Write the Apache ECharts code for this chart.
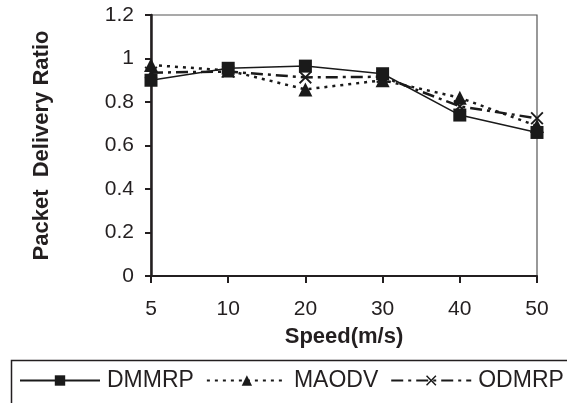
<!DOCTYPE html>
<html>
<head>
<meta charset="utf-8">
<script src="https://cdn.jsdelivr.net/npm/echarts@6/dist/echarts.min.js"></script>
<style>
html,body{margin:0;padding:0;background:#fff;}
#c{width:567px;height:403px;}
</style>
</head>
<body>
<div id="c"></div>
<script>
const categories = ['5', '10', '20', '30', '40', '50'];
const dmmrp = [0.90, 0.955, 0.965, 0.93, 0.74, 0.66];
const maodv = [0.97, 0.945, 0.858, 0.90, 0.82, 0.69];
const odmrp = [0.935, 0.94, 0.913, 0.916, 0.78, 0.725];
const yTicks = { min: 0, max: 1.2, interval: 0.2 };

const FONT = '"Liberation Sans", Arial, sans-serif';
const TXT = '#231f20';
const xSymbol = 'path://M0,1 L1,0 L5,4 L9,0 L10,1 L6,5 L10,9 L9,10 L5,6 L1,10 L0,9 L4,5 Z';

const chart = echarts.init(document.getElementById('c'), null, { renderer: 'canvas' });
chart.setOption({
  animation: false,
  backgroundColor: '#fff',
  textStyle: { fontFamily: FONT, color: TXT },
  graphic: [{
    type: 'rect', left: 9, top: 358, z: -1,
    shape: { width: 640, height: 100 },
    style: { fill: 'none', stroke: '#231f20', lineWidth: 1.5 }
  }],
  grid: {
    left: 151, right: 30, top: 15, bottom: 127,
    show: true, borderColor: '#555', borderWidth: 1.2, backgroundColor: 'transparent'
  },
  xAxis: {
    type: 'category',
    data: categories,
    boundaryGap: false,
    axisLine: { lineStyle: { color: '#231f20', width: 2 } },
    axisTick: { alignWithLabel: true, length: 7, lineStyle: { color: '#231f20', width: 2 } },
    axisLabel: { fontSize: 21, color: TXT, fontFamily: FONT, margin: 23 },
    splitLine: { show: false },
    name: 'Speed(m/s)',
    nameLocation: 'middle',
    nameGap: 50,
    nameTextStyle: { fontSize: 22, fontWeight: 'bold', color: TXT, fontFamily: FONT }
  },
  yAxis: {
    type: 'value',
    min: yTicks.min, max: yTicks.max, interval: yTicks.interval,
    axisLine: { show: true, lineStyle: { color: '#231f20', width: 2.5 } },
    axisTick: { show: true, length: 6, lineStyle: { color: '#231f20', width: 2 } },
    axisLabel: { fontSize: 21, color: TXT, fontFamily: FONT, margin: 17 },
    splitLine: { show: false },
    name: 'Packet  Delivery Ratio',
    nameLocation: 'middle',
    nameGap: 98,
    nameRotate: 90,
    nameTextStyle: { fontSize: 22, fontWeight: 'bold', color: TXT, fontFamily: FONT }
  },
  legend: {
    data: ['DMMRP', 'MAODV', 'ODMRP'],
    left: 9, top: 358, width: 620,
    orient: 'horizontal',
    padding: [11, 10, 30, 10],
    itemWidth: 80, itemHeight: 13, itemGap: 12,
    textStyle: { fontSize: 23, color: TXT, fontFamily: FONT, padding: [0, 0, 0, 2] }
  },
  series: [
    {
      name: 'DMMRP', type: 'line', data: dmmrp, z: 5,
      symbol: 'rect', symbolSize: 13,
      lineStyle: { color: '#1a1a1a', width: 1.5, type: 'solid' },
      itemStyle: { color: '#1a1a1a' }
    },
    {
      name: 'MAODV', type: 'line', data: maodv, z: 3,
      symbol: 'triangle', symbolSize: 14,
      lineStyle: { color: '#1a1a1a', width: 2.5, type: [3, 5] },
      itemStyle: { color: '#1a1a1a' }
    },
    {
      name: 'ODMRP', type: 'line', data: odmrp, z: 4,
      symbol: xSymbol, symbolSize: 13,
      lineStyle: { color: '#1a1a1a', width: 2.5, type: [12, 5, 3, 5] },
      itemStyle: { color: '#1a1a1a' }
    }
  ]
});
</script>
</body>
</html>
